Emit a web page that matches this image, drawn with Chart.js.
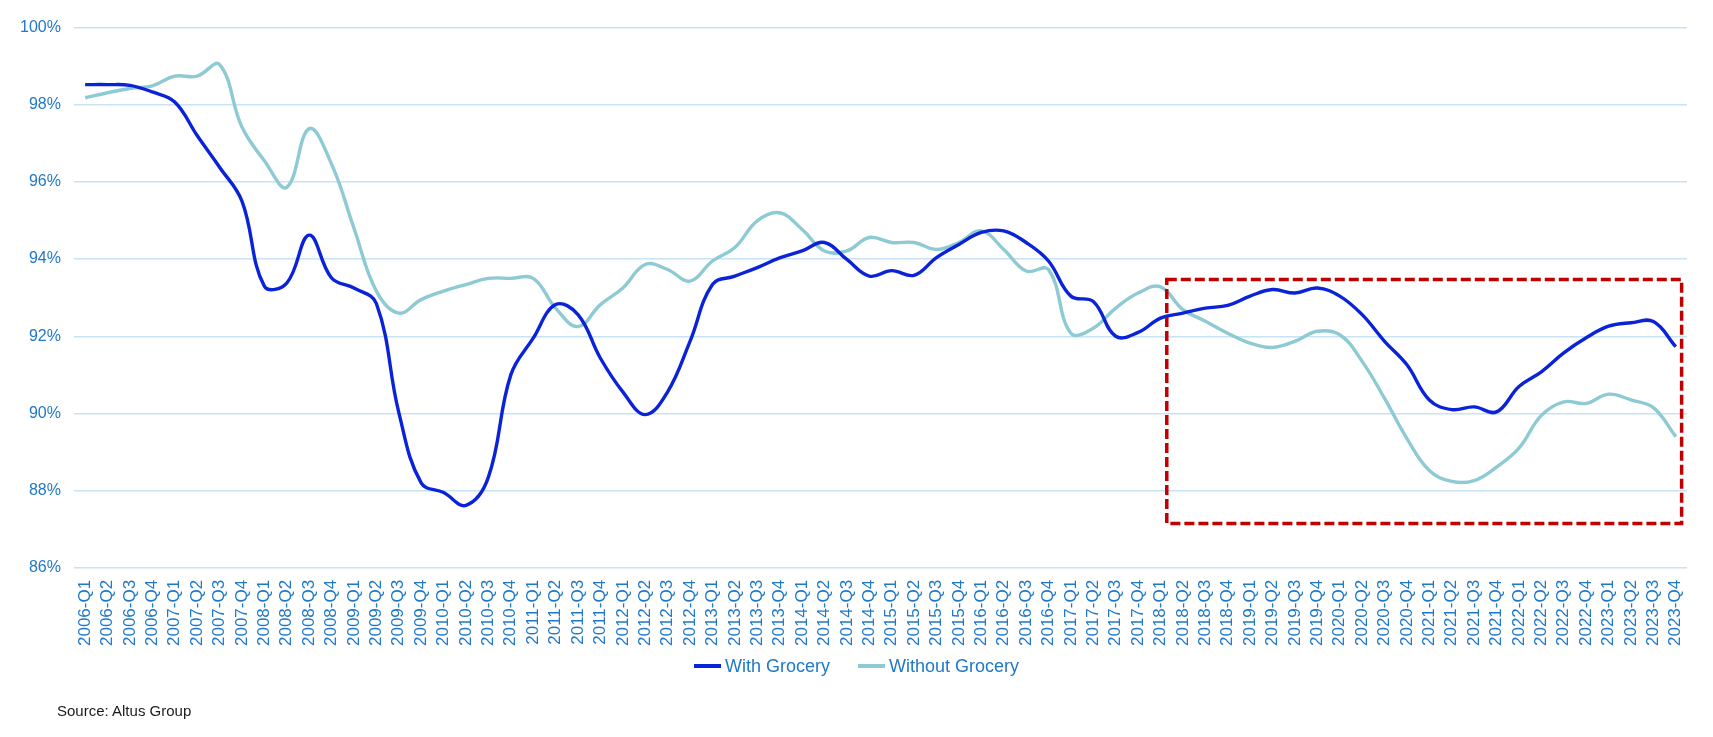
<!DOCTYPE html>
<html>
<head>
<meta charset="utf-8">
<script src="https://cdn.jsdelivr.net/npm/chart.js@4.4.1/dist/chart.umd.min.js"></script>
<style>
    html, body { margin: 0; padding: 0; background: #fff; }
    #wrap { position: relative; width: 1713px; height: 737px; font-family: "Liberation Sans", Arial, sans-serif; }
    #source { position: absolute; left: 57px; top: 702px; font-size: 15px; color: #1b1b1b; }
    #legend {
        position: absolute; left: 0; width: 1713px; top: 655px;
        display: flex; justify-content: center; align-items: center;
        font-size: 18px; color: #1f78c8; line-height: 22px;
    }
    .item { display: flex; align-items: center; margin: 0 14px; }
    .swatch { width: 27px; height: 4px; margin-right: 4px; }
</style>
</head>
<body>
<div id="wrap">
    <canvas id="chart"></canvas>
    <div id="legend"></div>
    <div id="source">Source: Altus Group</div>
</div>
<script>
// quarters 2006-Q1 .. 2023-Q4
const years = [2006, 2007, 2008, 2009, 2010, 2011, 2012, 2013, 2014, 2015, 2016, 2017, 2018, 2019, 2020, 2021, 2022, 2023];
const quarters = ["Q1", "Q2", "Q3", "Q4"];
const labels = [];
years.forEach(y => quarters.forEach(q => labels.push(y + "-" + q)));

const withGrocery = [
    98.52, 98.52, 98.50, 98.33, 98.07, 97.20, 96.38, 95.50, 93.30, 93.38,
    94.62, 93.51, 93.25, 92.85, 90.03, 88.20, 87.95, 87.62, 88.35, 91.00,
    91.95, 92.82, 92.56, 91.43, 90.56, 89.97, 90.56, 91.87, 93.34, 93.56,
    93.78, 94.03, 94.21, 94.43, 93.99, 93.56, 93.70, 93.58, 94.04, 94.38,
    94.69, 94.73, 94.43, 93.95, 93.04, 92.90, 92.00, 92.10, 92.47, 92.60,
    92.73, 92.80, 93.04, 93.21, 93.12, 93.25, 93.04, 92.56, 91.87, 91.26,
    90.35, 90.10, 90.17, 90.04, 90.70, 91.08, 91.57, 91.96, 92.26, 92.35,
    92.38, 91.73
];

const withoutGrocery = [
    98.18, 98.31, 98.42, 98.49, 98.74, 98.74, 99.04, 97.42, 96.55, 95.86,
    97.38, 96.46, 94.80, 93.17, 92.60, 92.95, 93.17, 93.34, 93.50, 93.50,
    93.50, 92.73, 92.25, 92.82, 93.25, 93.86, 93.73, 93.43, 93.95, 94.30,
    94.99, 95.20, 94.77, 94.21, 94.21, 94.56, 94.43, 94.43, 94.25, 94.43,
    94.73, 94.25, 93.69, 93.73, 92.08, 92.21, 92.73, 93.12, 93.28, 92.69,
    92.39, 92.08, 91.82, 91.71, 91.87, 92.13, 92.04, 91.35, 90.39, 89.35,
    88.52, 88.24, 88.26, 88.61, 89.10, 89.95, 90.30, 90.26, 90.50, 90.35,
    90.15, 89.40
];

// highlighted period (category index / percent)
const boxFrom = 48.28, boxTo = 71.26, boxTop = 93.47, boxBottom = 87.15;

const tickColor = "#1f78c8";
const font = "'Liberation Sans', Arial, sans-serif";

const highlightBox = {
    id: "highlightBox",
    afterDatasetsDraw(chart) {
        const { ctx, scales } = chart;
        const x1 = scales.x.getPixelForValue(boxFrom);
        const x2 = scales.x.getPixelForValue(boxTo);
        const y1 = scales.y.getPixelForValue(boxTop);
        const y2 = scales.y.getPixelForValue(boxBottom);
        ctx.save();
        ctx.strokeStyle = "#c00000";
        ctx.lineWidth = 3.5;
        ctx.setLineDash([10, 4]);
        ctx.strokeRect(x1, y1, x2 - x1, y2 - y1);
        ctx.restore();
    }
};

const chart = new Chart(document.getElementById("chart"), {
    type: "line",
    data: {
        labels: labels,
        datasets: [{
            label: "With Grocery",
            data: withGrocery,
            borderColor: "#0a22d8",
            backgroundColor: "#0a22d8",
            borderWidth: 3.4,
            pointRadius: 0,
            tension: 0.4
        }, {
            label: "Without Grocery",
            data: withoutGrocery,
            borderColor: "#8ecad3",
            backgroundColor: "#8ecad3",
            borderWidth: 3.4,
            pointRadius: 0,
            tension: 0.4
        }]
    },
    options: {
        responsive: true,
        maintainAspectRatio: false,
        animation: false,
        devicePixelRatio: 1,
        layout: { padding: { left: 7, right: 26, top: 27.5, bottom: 87 } },
        plugins: {
            legend: { display: false },
            tooltip: { enabled: false }
        },
        scales: {
            x: {
                offset: true,
                grid: { display: false },
                border: { display: false },
                ticks: {
                    autoSkip: false,
                    minRotation: 90,
                    maxRotation: 90,
                    padding: 4,
                    color: tickColor,
                    font: { family: font, size: 17 }
                }
            },
            y: {
                min: 86,
                max: 100,
                border: { display: false },
                grid: { color: "#c8e2f6", lineWidth: 1.5, drawTicks: false },
                ticks: {
                    stepSize: 2,
                    padding: 13,
                    color: tickColor,
                    font: { family: font, size: 16 },
                    callback: v => v + "%"
                }
            }
        }
    },
    plugins: [highlightBox]
});

// legend built from the datasets
const legend = document.getElementById("legend");
chart.data.datasets.forEach(ds => {
    const item = document.createElement("div");
    item.className = "item";
    item.innerHTML = `<span class="swatch" style="background:${ds.borderColor}"></span><span>${ds.label}</span>`;
    legend.appendChild(item);
});
</script>
</body>
</html>
